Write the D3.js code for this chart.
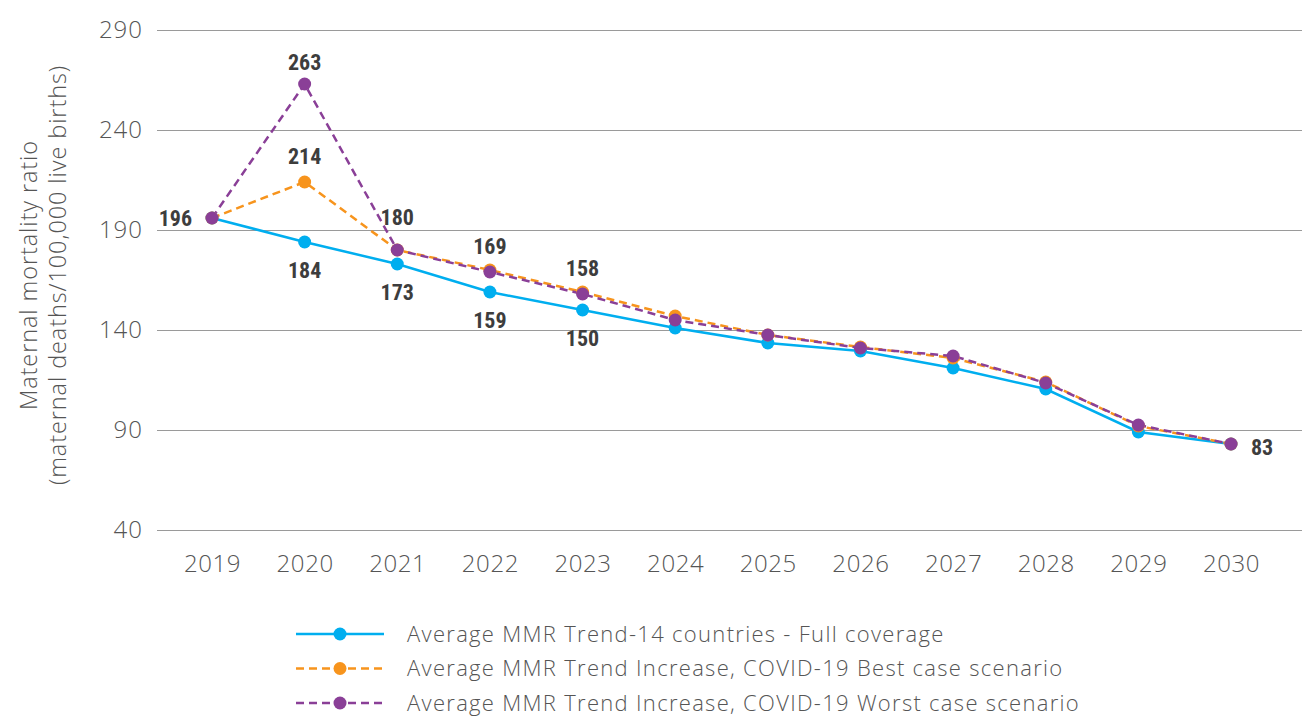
<!DOCTYPE html>
<html><head><meta charset="utf-8">
<script src="https://cdn.jsdelivr.net/npm/d3@7"></script>
<style>
body{margin:0;background:#fff;}
svg{display:block;}
</style></head>
<body><svg id="c" width="1302" height="718"></svg>
<script>
const years = ["2019","2020","2021","2022","2023","2024","2025","2026","2027","2028","2029","2030"];
const fullCoverage = [196,184,173,159,150,141,133.5,129.5,121,110.5,89,83];
const bestCase = [196,214,180,170,159,147,137.5,131.5,126,114,92,83];
const worstCase = [196,263,180,169,158,145,137.5,131,127,113.5,92.5,83];
const yTicks = [40,90,140,190,240,290];
const seriesNames = [
  "Average MMR Trend-14 countries - Full coverage",
  "Average MMR Trend Increase, COVID-19 Best case scenario",
  "Average MMR Trend Increase, COVID-19 Worst case scenario"
];
// data labels: [series index, year index, placement]
const labels = [
  [2,0,"left"],[2,1,"aboveNear"],[1,1,"above"],[0,1,"below"],
  [2,2,"aboveFar"],[0,2,"below"],[2,3,"above"],[0,3,"below"],
  [2,4,"above"],[0,4,"below"],[2,11,"right"]
];

const colors = ["#00AEEF","#F7941D","#8A3F97"];
const dashes = [null,"8,5","8,5"];
const allSeries = [fullCoverage,bestCase,worstCase];
const tf = "'Open Sans', Lato, sans-serif";

const svg = d3.select("#c");
const x = d3.scalePoint().domain(years).range([212,1231]);
const y = d3.scaleLinear().domain([40,290]).range([530,30]);

const yAxis = d3.axisLeft(y).tickValues(yTicks).tickSize(-(1302-157)).tickPadding(14);
const gy = svg.append("g").attr("transform","translate(157,0)").call(yAxis);
gy.select(".domain").remove();
gy.selectAll(".tick line").attr("stroke","#9a9a9a").attr("stroke-width",1);
gy.selectAll(".tick text").attr("fill","#555").style("font-family",tf).style("font-weight",300)
  .style("font-size","24px").style("letter-spacing","1px");

const xAxis = d3.axisBottom(x).tickSize(0).tickPadding(0);
const gx = svg.append("g").attr("transform","translate(0,555)").call(xAxis);
gx.select(".domain").remove();
gx.selectAll(".tick text").attr("fill","#555").attr("dy","0.71em").style("font-family",tf).style("font-weight",300)
  .style("font-size","24px").style("letter-spacing","0.6px");

const yt = svg.append("text").attr("transform","translate(44,275) rotate(-90)").attr("text-anchor","middle")
  .attr("fill","#555").style("font-family",tf).style("font-weight",300).style("font-size","23.5px").style("letter-spacing","0.9px");
yt.append("tspan").attr("x",0).attr("dy","-0.3em").text("Maternal mortality ratio");
yt.append("tspan").attr("x",0).attr("dy","1.25em").text("(maternal deaths/100,000 live births)");

const line = d3.line().x((d,i)=>x(years[i])).y(d=>y(d));
allSeries.forEach((s,k)=>{
  svg.append("path").datum(s).attr("d",line).attr("fill","none").attr("stroke",colors[k])
    .attr("stroke-width",2.5).attr("stroke-dasharray",dashes[k]);
});
allSeries.forEach((s,k)=>{
  svg.append("g").selectAll("circle").data(s).join("circle")
    .attr("cx",(d,i)=>x(years[i])).attr("cy",d=>y(d)).attr("r",6.5).attr("fill",colors[k]);
});

const lf = "'Liberation Sans Narrow','Roboto Condensed','Roboto',sans-serif";
const offsets = {above:-26, aboveNear:-22, aboveFar:-33, below:28};
labels.forEach(([si,yi,pos])=>{
  const v = allSeries[si][yi];
  let tx = x(years[yi]), ty = y(v), anchor="middle";
  if(pos in offsets) ty += offsets[pos];
  if(pos==="left"){ tx -= 20; anchor="end"; }
  if(pos==="right"){ tx += 20; anchor="start"; ty += 3; }
  svg.append("text").attr("x",tx).attr("y",ty).attr("dy","0.35em").attr("text-anchor",anchor)
    .attr("fill","#3d3d3d").style("font-family",lf).style("font-weight",700).style("font-size","22px")
    .text(Math.round(v));
});

const lg = svg.append("g");
seriesNames.forEach((n,k)=>{
  const ly = 634 + k*34.5;
  lg.append("line").attr("x1",296).attr("x2",384).attr("y1",ly).attr("y2",ly)
    .attr("stroke",colors[k]).attr("stroke-width",2.5).attr("stroke-dasharray",dashes[k]);
  lg.append("circle").attr("cx",340).attr("cy",ly).attr("r",6.5).attr("fill",colors[k]);
  lg.append("text").attr("x",407).attr("y",ly).attr("dy","0.35em").attr("fill","#555")
    .style("font-family",tf).style("font-weight",300).style("font-size","22px").style("letter-spacing","1.3px").text(n);
});
</script></body></html>
